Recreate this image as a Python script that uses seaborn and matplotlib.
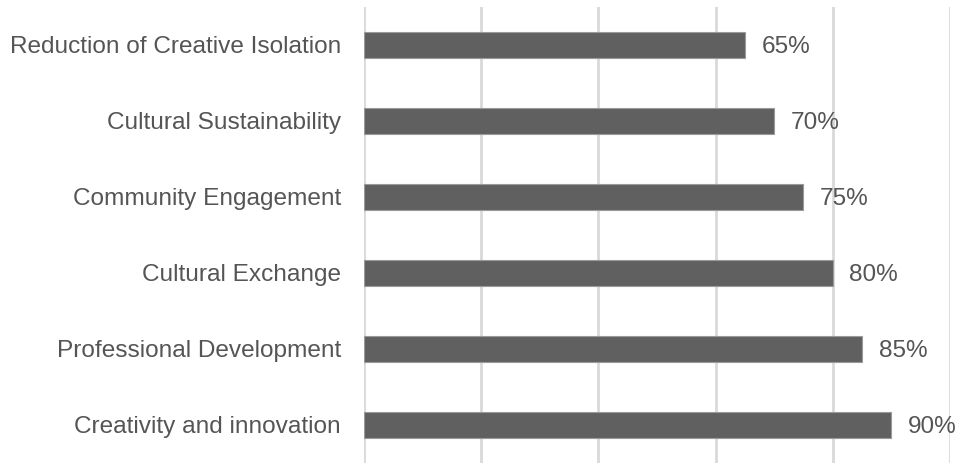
import matplotlib
matplotlib.use("Agg")
import matplotlib.pyplot as plt
import seaborn as sns
import pandas as pd

# data
categories = [
    "Reduction of Creative Isolation",
    "Cultural Sustainability",
    "Community Engagement",
    "Cultural Exchange",
    "Professional Development",
    "Creativity and innovation",
]
values = [65, 70, 75, 80, 85, 90]
x_ticks = [0, 20, 40, 60, 80, 100]

df = pd.DataFrame({"category": categories, "value": values})

sns.set_style("white")
plt.rcParams["font.family"] = ["Liberation Sans", "DejaVu Sans"]

fig = plt.figure(figsize=(9.68, 4.63), dpi=100)
ax = fig.add_axes([0.376, 0.0, 0.6054, 0.985])

sns.barplot(data=df, x="value", y="category", orient="h", color="#606060",
            width=0.34, edgecolor="#9a9a9a", linewidth=0.8, ax=ax, zorder=3)

ax.set_xlim(0, 100)
ax.set_ylim(len(categories) - 0.5, -0.5)
ax.set_xticks(x_ticks)
ax.set_xticklabels([])
ax.tick_params(axis="x", length=0)
ax.tick_params(axis="y", length=0, pad=16.5, labelsize=17.6, labelcolor="#555555")
ax.xaxis.grid(True, color="#d9d9d9", linewidth=2)
ax.set_axisbelow(True)
for s in ax.spines.values():
    s.set_visible(False)
ax.set_xlabel("")
ax.set_ylabel("")

for i, v in enumerate(values):
    ax.annotate(f"{v}%", xy=(v, i), xytext=(12, 0), textcoords="offset points",
                va="center_baseline", ha="left", fontsize=17.6, color="#555555")

fig.savefig("out.png", dpi=100)
